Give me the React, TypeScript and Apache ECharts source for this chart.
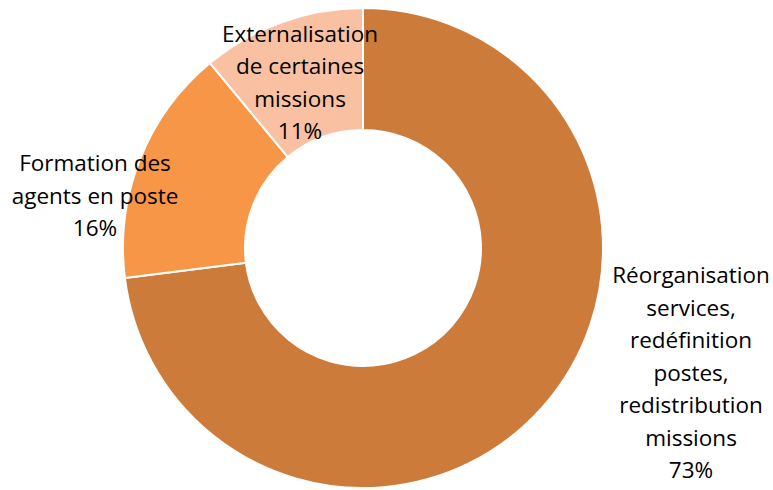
import React, { useEffect, useRef } from "react";
import * as echarts from "echarts";

const categories = [
  "Réorganisation\nservices,\nredéfinition\npostes,\nredistribution\nmissions",
  "Formation des\nagents en poste",
  "Externalisation\nde certaines\nmissions",
];
const values = [73, 16, 11];
const colors = ["#CD7B3A", "#F79646", "#F9C1A1"];
const labelCenters = [
  [691, 372],
  [95, 195],
  [300, 82],
];

export default function App() {
  const ref = useRef<HTMLDivElement>(null);
  useEffect(() => {
    if (!ref.current) return;
    const chart = echarts.init(ref.current, undefined, { renderer: "svg" });
    chart.setOption({
      animation: false,
      backgroundColor: "#ffffff",
      series: [
        {
          type: "pie",
          center: [363, 248],
          radius: [118, 240],
          startAngle: 90,
          clockwise: true,
          avoidLabelOverlap: false,
          itemStyle: { borderColor: "#ffffff", borderWidth: 2 },
          label: {
            show: true,
            position: "outside",
            formatter: (p: any) => `${p.name}\n${p.value}%`,
            fontFamily: "Open Sans, Noto Sans, sans-serif",
            fontSize: 22.5,
            lineHeight: 32.5,
            color: "#000000",
            align: "center",
          },
          labelLine: { show: false },
          labelLayout: (params: any) => {
            const c = labelCenters[params.dataIndex];
            return { x: c[0], y: c[1], align: "center", verticalAlign: "middle" };
          },
          data: categories.map((name, i) => ({
            name,
            value: values[i],
            itemStyle: { color: colors[i] },
          })),
        },
      ],
    });
    return () => chart.dispose();
  }, []);
  return (
    <div
      ref={ref}
      style={{ position: "fixed", left: 0, top: 0, width: 773, height: 490 }}
    />
  );
}
